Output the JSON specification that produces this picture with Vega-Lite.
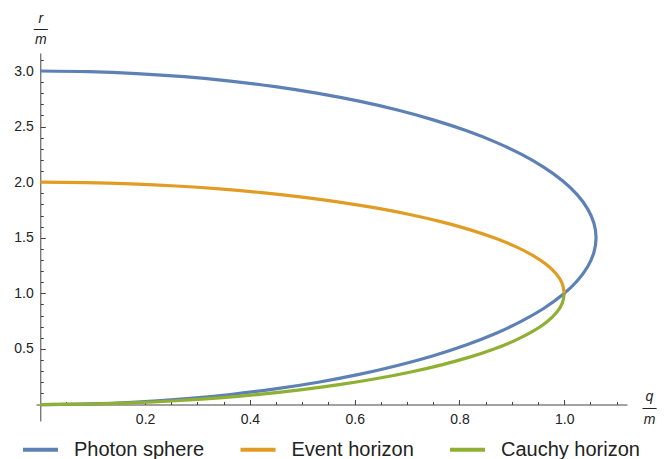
{
  "$schema": "https://vega.github.io/schema/vega-lite/v6.json",
  "width": 591,
  "height": 368,
  "autosize": {"type": "none"},
  "padding": {"left": 36, "top": 53, "right": 40, "bottom": 38},
  "background": "white",
  "config": {
    "view": {"stroke": null},
    "font": "Liberation Sans",
    "axis": {
      "grid": false,
      "domainColor": "#444444",
      "domainWidth": 1,
      "tickColor": "#444444",
      "tickWidth": 1,
      "labelColor": "#222222",
      "labelFont": "Liberation Sans",
      "labelFontSize": 14,
      "labelOverlap": false,
      "labelFlush": false,
      "titleFont": "Liberation Sans",
      "titleFontStyle": "italic",
      "titleFontWeight": "normal",
      "titleFontSize": 14,
      "titleColor": "#222222"
    },
    "legend": {
      "orient": "none",
      "direction": "horizontal",
      "legendX": -15,
      "legendY": 377,
      "padding": 0,
      "symbolType": "stroke",
      "symbolSize": 1225,
      "symbolStrokeWidth": 4,
      "labelFont": "Liberation Sans",
      "labelFontSize": 20,
      "labelColor": "#222222",
      "labelOffset": 14,
      "columnPadding": 27.5,
      "labelLimit": 300
    }
  },
  "data": {
    "values": [
      {"s": "Photon sphere", "t": 0, "q": 0, "r": 3},
      {"s": "Photon sphere", "t": 5, "q": 0.09245, "r": 2.99429},
      {"s": "Photon sphere", "t": 10, "q": 0.18419, "r": 2.97722},
      {"s": "Photon sphere", "t": 15, "q": 0.27452, "r": 2.9489},
      {"s": "Photon sphere", "t": 20, "q": 0.36277, "r": 2.90954},
      {"s": "Photon sphere", "t": 25, "q": 0.44826, "r": 2.85947},
      {"s": "Photon sphere", "t": 30, "q": 0.53033, "r": 2.79904},
      {"s": "Photon sphere", "t": 35, "q": 0.60838, "r": 2.72873},
      {"s": "Photon sphere", "t": 40, "q": 0.68178, "r": 2.64906},
      {"s": "Photon sphere", "t": 45, "q": 0.75, "r": 2.56066},
      {"s": "Photon sphere", "t": 50, "q": 0.81251, "r": 2.46419},
      {"s": "Photon sphere", "t": 55, "q": 0.86884, "r": 2.36037},
      {"s": "Photon sphere", "t": 60, "q": 0.91856, "r": 2.25},
      {"s": "Photon sphere", "t": 65, "q": 0.96129, "r": 2.13393},
      {"s": "Photon sphere", "t": 70, "q": 0.99669, "r": 2.01303},
      {"s": "Photon sphere", "t": 75, "q": 1.02453, "r": 1.88823},
      {"s": "Photon sphere", "t": 80, "q": 1.04454, "r": 1.76047},
      {"s": "Photon sphere", "t": 85, "q": 1.05662, "r": 1.63074},
      {"s": "Photon sphere", "t": 90, "q": 1.06066, "r": 1.5},
      {"s": "Photon sphere", "t": 95, "q": 1.05662, "r": 1.36926},
      {"s": "Photon sphere", "t": 100, "q": 1.04454, "r": 1.23953},
      {"s": "Photon sphere", "t": 105, "q": 1.02453, "r": 1.11177},
      {"s": "Photon sphere", "t": 110, "q": 0.99669, "r": 0.98697},
      {"s": "Photon sphere", "t": 115, "q": 0.96129, "r": 0.86607},
      {"s": "Photon sphere", "t": 120, "q": 0.91856, "r": 0.75},
      {"s": "Photon sphere", "t": 125, "q": 0.86884, "r": 0.63963},
      {"s": "Photon sphere", "t": 130, "q": 0.81251, "r": 0.53581},
      {"s": "Photon sphere", "t": 135, "q": 0.75, "r": 0.43934},
      {"s": "Photon sphere", "t": 140, "q": 0.68178, "r": 0.35094},
      {"s": "Photon sphere", "t": 145, "q": 0.60838, "r": 0.27127},
      {"s": "Photon sphere", "t": 150, "q": 0.53033, "r": 0.20096},
      {"s": "Photon sphere", "t": 155, "q": 0.44826, "r": 0.14053},
      {"s": "Photon sphere", "t": 160, "q": 0.36277, "r": 0.09046},
      {"s": "Photon sphere", "t": 165, "q": 0.27452, "r": 0.0511},
      {"s": "Photon sphere", "t": 170, "q": 0.18419, "r": 0.02278},
      {"s": "Photon sphere", "t": 175, "q": 0.09245, "r": 0.00571},
      {"s": "Photon sphere", "t": 180, "q": 0, "r": 0},
      {"s": "Event horizon", "t": 0, "q": 0, "r": 2},
      {"s": "Event horizon", "t": 5, "q": 0.08716, "r": 1.99619},
      {"s": "Event horizon", "t": 10, "q": 0.17365, "r": 1.98481},
      {"s": "Event horizon", "t": 15, "q": 0.25882, "r": 1.96593},
      {"s": "Event horizon", "t": 20, "q": 0.34202, "r": 1.93969},
      {"s": "Event horizon", "t": 25, "q": 0.42262, "r": 1.90631},
      {"s": "Event horizon", "t": 30, "q": 0.5, "r": 1.86603},
      {"s": "Event horizon", "t": 35, "q": 0.57358, "r": 1.81915},
      {"s": "Event horizon", "t": 40, "q": 0.64279, "r": 1.76604},
      {"s": "Event horizon", "t": 45, "q": 0.70711, "r": 1.70711},
      {"s": "Event horizon", "t": 50, "q": 0.76604, "r": 1.64279},
      {"s": "Event horizon", "t": 55, "q": 0.81915, "r": 1.57358},
      {"s": "Event horizon", "t": 60, "q": 0.86603, "r": 1.5},
      {"s": "Event horizon", "t": 65, "q": 0.90631, "r": 1.42262},
      {"s": "Event horizon", "t": 70, "q": 0.93969, "r": 1.34202},
      {"s": "Event horizon", "t": 75, "q": 0.96593, "r": 1.25882},
      {"s": "Event horizon", "t": 80, "q": 0.98481, "r": 1.17365},
      {"s": "Event horizon", "t": 85, "q": 0.99619, "r": 1.08716},
      {"s": "Event horizon", "t": 90, "q": 1, "r": 1},
      {"s": "Cauchy horizon", "t": 90, "q": 1, "r": 1},
      {"s": "Cauchy horizon", "t": 95, "q": 0.99619, "r": 0.91284},
      {"s": "Cauchy horizon", "t": 100, "q": 0.98481, "r": 0.82635},
      {"s": "Cauchy horizon", "t": 105, "q": 0.96593, "r": 0.74118},
      {"s": "Cauchy horizon", "t": 110, "q": 0.93969, "r": 0.65798},
      {"s": "Cauchy horizon", "t": 115, "q": 0.90631, "r": 0.57738},
      {"s": "Cauchy horizon", "t": 120, "q": 0.86603, "r": 0.5},
      {"s": "Cauchy horizon", "t": 125, "q": 0.81915, "r": 0.42642},
      {"s": "Cauchy horizon", "t": 130, "q": 0.76604, "r": 0.35721},
      {"s": "Cauchy horizon", "t": 135, "q": 0.70711, "r": 0.29289},
      {"s": "Cauchy horizon", "t": 140, "q": 0.64279, "r": 0.23396},
      {"s": "Cauchy horizon", "t": 145, "q": 0.57358, "r": 0.18085},
      {"s": "Cauchy horizon", "t": 150, "q": 0.5, "r": 0.13397},
      {"s": "Cauchy horizon", "t": 155, "q": 0.42262, "r": 0.09369},
      {"s": "Cauchy horizon", "t": 160, "q": 0.34202, "r": 0.06031},
      {"s": "Cauchy horizon", "t": 165, "q": 0.25882, "r": 0.03407},
      {"s": "Cauchy horizon", "t": 170, "q": 0.17365, "r": 0.01519},
      {"s": "Cauchy horizon", "t": 175, "q": 0.08716, "r": 0.00381},
      {"s": "Cauchy horizon", "t": 180, "q": 0, "r": 0}
    ]
  },
  "mark": {"type": "line", "strokeWidth": 3.2, "interpolate": "natural", "clip": true},
  "encoding": {
    "x": {
      "field": "q",
      "type": "quantitative",
      "scale": {"domain": [-0.0082, 1.1197], "nice": false, "zero": false},
      "axis": {
        "orient": "bottom",
        "offset": -16.5,
        "values": [0.05, 0.1, 0.15, 0.2, 0.25, 0.3, 0.35, 0.4, 0.45, 0.5, 0.55, 0.6, 0.65, 0.7, 0.75, 0.8, 0.85, 0.9, 0.95, 1.0, 1.05, 1.1],
        "tickSize": {"condition": {"test": "abs(datum.value*5-round(datum.value*5))<0.000001", "value": -5}, "value": -3},
        "labelExpr": "abs(datum.value*5-round(datum.value*5))<0.000001 ? format(datum.value,'.1f') : ''",
        "labelPadding": 13,
        "title": ["q", "—", "m"],
        "titleAngle": 0,
        "titleAlign": "center",
        "titleBaseline": "alphabetic",
        "titleLineHeight": 11.25,
        "titleX": 613,
        "titleY": -4
      }
    },
    "y": {
      "field": "r",
      "type": "quantitative",
      "scale": {"domain": [-0.148, 3.162], "nice": false, "zero": false},
      "axis": {
        "orient": "left",
        "offset": -4.3,
        "values": [0.1, 0.2, 0.3, 0.4, 0.5, 0.6, 0.7, 0.8, 0.9, 1.0, 1.1, 1.2, 1.3, 1.4, 1.5, 1.6, 1.7, 1.8, 1.9, 2.0, 2.1, 2.2, 2.3, 2.4, 2.5, 2.6, 2.7, 2.8, 2.9, 3.0, 3.1],
        "tickSize": {"condition": {"test": "abs(datum.value*2-round(datum.value*2))<0.000001", "value": -5}, "value": -3},
        "labelExpr": "abs(datum.value*2-round(datum.value*2))<0.000001 ? format(datum.value,'.1f') : ''",
        "labelPadding": 12,
        "title": ["r", "—", "m"],
        "titleAngle": 0,
        "titleAlign": "center",
        "titleBaseline": "alphabetic",
        "titleLineHeight": 10.5,
        "titleX": 0,
        "titleY": -31
      }
    },
    "color": {
      "field": "s",
      "type": "nominal",
      "scale": {"domain": ["Photon sphere", "Event horizon", "Cauchy horizon"], "range": ["#5E81B5", "#E19C24", "#8FB032"]},
      "legend": {"title": null}
    },
    "order": {"field": "t", "type": "quantitative"}
  }
}
